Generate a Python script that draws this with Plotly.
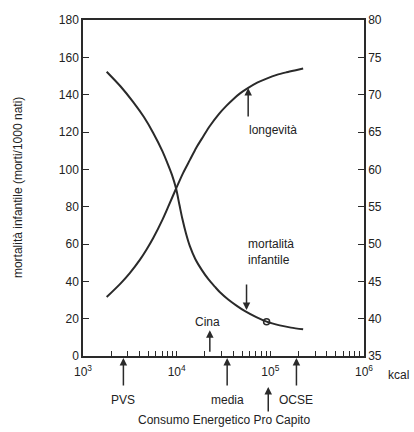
import plotly.graph_objects as go
import math

# Data
consumo_mort = [1790, 2510, 3440, 4470, 5620, 7080, 7940, 8910, 9840, 10700,
                11500, 12600, 13800, 15800, 18600, 21900, 25700, 28800, 35500,
                44700, 53700, 70800, 91200, 126000, 166000, 224000]
mortalita = [152.3, 144.5, 136.0, 128.0, 119.5, 109.5, 103.5, 97.0, 89.8, 81.0,
             73.5, 65.5, 59.0, 52.0, 46.0, 41.0, 37.0, 34.3, 30.3,
             26.6, 24.0, 20.8, 18.4, 16.4, 15.2, 14.3]

consumo_long = [1790, 2510, 3160, 4060, 4790, 5620, 7080, 8130, 9840, 11700,
                13900, 16200, 19200, 22600, 28200, 33900, 40200, 47900, 58100,
                72400, 91200, 117000, 149000, 182000, 224000]
longevita = [42.9, 44.7, 46.1, 47.9, 49.3, 50.8, 53.3, 55.0, 57.4, 59.5,
             61.3, 62.9, 64.4, 65.8, 67.4, 68.5, 69.4, 70.2, 70.9,
             71.6, 72.15, 72.65, 73.0, 73.25, 73.5]

x_decades = [1e3, 1e4, 1e5, 1e6]
x_decade_text = ["10<sup>3</sup>", "10<sup>4</sup>", "10<sup>5</sup>", "10<sup>6</sup>"]
y_left_ticks = list(range(0, 181, 20))
y_right_ticks = list(range(35, 81, 5))

# marked points (kcal)
pvs = 2700
cina = 22600
media = 34600
cerchio = 91200
cerchio_val = 18.4
freccia_basso = 95000
ocse = 190000
freccia_mort = 55700
freccia_long = 58000

# tick positions: decades labelled, intermediate multiples unlabelled
x_tickvals, x_ticktext = [], []
for i, d in enumerate(x_decades):
    x_tickvals.append(d)
    x_ticktext.append(x_decade_text[i])
    if i < len(x_decades) - 1:
        for m in range(2, 10):
            x_tickvals.append(d * m)
            x_ticktext.append("")

col = "#2a2a2a"
font = dict(family="Liberation Sans, Arial, sans-serif", size=12, color="#222222")

fig = go.Figure()
fig.add_trace(go.Scatter(x=consumo_mort, y=mortalita, mode="lines",
                         line=dict(color=col, width=2, shape="spline", smoothing=0.8),
                         showlegend=False))
fig.add_trace(go.Scatter(x=consumo_long, y=longevita, mode="lines", yaxis="y2",
                         line=dict(color=col, width=2, shape="spline", smoothing=0.8),
                         showlegend=False))
fig.add_trace(go.Scatter(x=[cerchio], y=[cerchio_val], mode="markers",
                         marker=dict(symbol="circle-open", size=6, color=col,
                                     line=dict(width=1.5)),
                         showlegend=False))

ann = []
def arrow(x, y, ay, xref="x", yref="y"):
    ann.append(dict(x=x, y=y, xref=xref, yref=yref, ax=0, ay=ay, text="",
                    showarrow=True, arrowhead=2, arrowsize=1, arrowwidth=1.5,
                    arrowcolor=col))
def label(x, y, text, xref="x", yref="paper", xanchor="center", **kw):
    d = dict(x=x, y=y, xref=xref, yref=yref, text=text, showarrow=False,
             xanchor=xanchor, yanchor="middle", font=font)
    d.update(kw)
    ann.append(d)

L = math.log10
# below-axis arrows
for v in (pvs, media, ocse):
    arrow(L(v), -0.006, 29, yref="paper")
arrow(L(freccia_basso), -0.092, 26, yref="paper")
label(L(pvs), -0.131, "PVS")
label(L(media), -0.131, "media")
label(L(ocse), -0.131, "OCSE")
label(1.121, -0.057, "kcal", xref="paper")
label(0.5, -0.19, "Consumo Energetico Pro Capito", xref="paper")
# Cina
arrow(L(cina), 0.077, 23, yref="paper")
label(L(cina) - 0.02, 0.1, "Cina")
# curve labels
arrow(L(freccia_long), 70.9, 30, yref="y2")
label(L(freccia_long) - 0.01, 0.673, "longevità", xanchor="left")
arrow(L(freccia_mort), 24.6, -27, yref="y")
label(L(freccia_mort) - 0.01, 0.31, "mortalità<br>infantile", xanchor="left", align="left")
# y title
label(-0.231, 0.5, "mortalità infantile (morti/1000 nati)", xref="paper", textangle=-90)

fig.update_layout(
    width=414, height=432,
    margin=dict(l=83, r=50, t=20, b=76),
    paper_bgcolor="white", plot_bgcolor="white",
    font=font,
    annotations=ann,
    xaxis=dict(type="log", range=[3, 6], tickvals=x_tickvals, ticktext=x_ticktext,
               showline=True, linecolor=col, linewidth=1.5, mirror=True,
               ticks="inside", ticklen=5, tickcolor=col, showgrid=False,
               zeroline=False, tickfont=font, ticklabelstandoff=4),
    yaxis=dict(range=[0, 180], tickvals=y_left_ticks, showline=True,
               linecolor=col, linewidth=1.5, ticks="inside", ticklen=6,
               tickcolor=col, showgrid=False, zeroline=False, tickfont=font),
    yaxis2=dict(range=[35, 80], tickvals=y_right_ticks, overlaying="y",
                side="right", showline=True, linecolor=col, linewidth=1.5,
                ticks="inside", ticklen=6, tickcolor=col, showgrid=False,
                zeroline=False, tickfont=font),
)

fig.write_html("out.html")
